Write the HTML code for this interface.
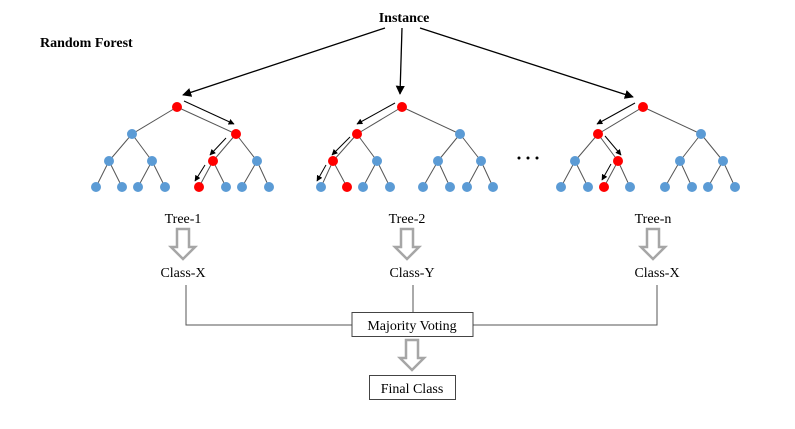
<!DOCTYPE html>
<html><head><meta charset="utf-8"><style>body{margin:0;background:#fff}</style></head><body>
<svg width="795" height="424" viewBox="0 0 795 424" xmlns="http://www.w3.org/2000/svg" font-family="Liberation Serif, serif">
<defs>
<marker id="a" viewBox="0 0 10 10" refX="9" refY="5" markerWidth="7" markerHeight="7" orient="auto"><path d="M0,0L10,5L0,10z" fill="#000"/></marker>
<marker id="s" viewBox="0 0 10 10" refX="9" refY="5" markerWidth="6" markerHeight="6" orient="auto"><path d="M0,0L10,5L0,10z" fill="#000"/></marker>
<g id="ha"><path d="M-6,0H6V18H12L0,30L-12,18H-6Z" fill="#fff" stroke="#a6a6a6" stroke-width="2.5"/></g>
</defs>
<text x="404" y="22" text-anchor="middle" font-weight="bold" font-size="14">Instance</text>
<text x="40" y="47" font-weight="bold" font-size="14">Random Forest</text>
<g stroke="#000" stroke-width="1.3">
<line x1="385" y1="28" x2="183" y2="95" marker-end="url(#a)"/>
<line x1="402" y1="28" x2="400" y2="94" marker-end="url(#a)"/>
<line x1="420" y1="28" x2="633" y2="97" marker-end="url(#a)"/>
</g>
<g stroke="#555" stroke-width="1">
<path d="M177,107L132,134M177,107L236,134M132,134L109,161M132,134L152,161M236,134L213,161M236,134L257,161M109,161L96,187M109,161L122,187M152,161L138,187M152,161L165,187M213,161L199,187M213,161L226,187M257,161L242,187M257,161L269,187"/>
<path d="M402,107L357,134M402,107L460,134M357,134L333,161M357,134L377,161M460,134L438,161M460,134L481,161M333,161L321,187M333,161L347,187M377,161L363,187M377,161L390,187M438,161L423,187M438,161L450,187M481,161L467,187M481,161L493,187"/>
<path d="M643,107L598,134M643,107L701,134M598,134L575,161M598,134L618,161M701,134L680,161M701,134L723,161M575,161L561,187M575,161L588,187M618,161L604,187M618,161L630,187M680,161L665,187M680,161L692,187M723,161L708,187M723,161L735,187"/>
</g>
<g stroke="#000" stroke-width="1">
<line x1="184" y1="101" x2="234" y2="124" marker-end="url(#s)"/>
<line x1="226" y1="138" x2="210" y2="155" marker-end="url(#s)"/>
<line x1="205" y1="165" x2="195" y2="181" marker-end="url(#s)"/>
<line x1="395" y1="103" x2="357" y2="124" marker-end="url(#s)"/>
<line x1="350" y1="137" x2="332" y2="155" marker-end="url(#s)"/>
<line x1="326" y1="165" x2="317" y2="181" marker-end="url(#s)"/>
<line x1="635" y1="103" x2="597" y2="124" marker-end="url(#s)"/>
<line x1="605" y1="136" x2="621" y2="155" marker-end="url(#s)"/>
<line x1="611" y1="164" x2="602" y2="180" marker-end="url(#s)"/>
</g>
<g fill="#5b9bd5">
<circle cx="132" cy="134" r="5"/><circle cx="109" cy="161" r="5"/><circle cx="152" cy="161" r="5"/><circle cx="257" cy="161" r="5"/>
<circle cx="96" cy="187" r="5"/><circle cx="122" cy="187" r="5"/><circle cx="138" cy="187" r="5"/><circle cx="165" cy="187" r="5"/><circle cx="226" cy="187" r="5"/><circle cx="242" cy="187" r="5"/><circle cx="269" cy="187" r="5"/>
<circle cx="460" cy="134" r="5"/><circle cx="377" cy="161" r="5"/><circle cx="438" cy="161" r="5"/><circle cx="481" cy="161" r="5"/>
<circle cx="321" cy="187" r="5"/><circle cx="363" cy="187" r="5"/><circle cx="390" cy="187" r="5"/><circle cx="423" cy="187" r="5"/><circle cx="450" cy="187" r="5"/><circle cx="467" cy="187" r="5"/><circle cx="493" cy="187" r="5"/>
<circle cx="701" cy="134" r="5"/><circle cx="575" cy="161" r="5"/><circle cx="680" cy="161" r="5"/><circle cx="723" cy="161" r="5"/>
<circle cx="561" cy="187" r="5"/><circle cx="588" cy="187" r="5"/><circle cx="630" cy="187" r="5"/><circle cx="665" cy="187" r="5"/><circle cx="692" cy="187" r="5"/><circle cx="708" cy="187" r="5"/><circle cx="735" cy="187" r="5"/>
</g>
<g fill="#f00">
<circle cx="177" cy="107" r="5"/><circle cx="236" cy="134" r="5"/><circle cx="213" cy="161" r="5"/><circle cx="199" cy="187" r="5"/>
<circle cx="402" cy="107" r="5"/><circle cx="357" cy="134" r="5"/><circle cx="333" cy="161" r="5"/><circle cx="347" cy="187" r="5"/>
<circle cx="643" cy="107" r="5"/><circle cx="598" cy="134" r="5"/><circle cx="618" cy="161" r="5"/><circle cx="604" cy="187" r="5"/>
</g>
<g fill="#000"><circle cx="519" cy="158" r="1.5"/><circle cx="528" cy="158" r="1.5"/><circle cx="537" cy="158" r="1.5"/></g>
<g font-size="14" text-anchor="middle">
<text x="183" y="223">Tree-1</text><text x="407" y="223">Tree-2</text><text x="653" y="223">Tree-n</text>
<text x="183" y="277">Class-X</text><text x="412" y="277">Class-Y</text><text x="657" y="277">Class-X</text>
</g>
<use href="#ha" x="183" y="229"/><use href="#ha" x="407" y="229"/><use href="#ha" x="653" y="229"/>
<use href="#ha" x="412" y="340"/>
<g stroke="#555" stroke-width="1" fill="none">
<path d="M186,285V325H352M413,285V312M657,285V325H473"/>
</g>
<rect x="352" y="312.5" width="121" height="24" fill="#fff" stroke="#444"/>
<rect x="369.5" y="375.5" width="86" height="24" fill="#fff" stroke="#444"/>
<text x="412" y="330" text-anchor="middle" font-size="14">Majority Voting</text>
<text x="412" y="393" text-anchor="middle" font-size="14">Final Class</text>
</svg>
</body></html>
